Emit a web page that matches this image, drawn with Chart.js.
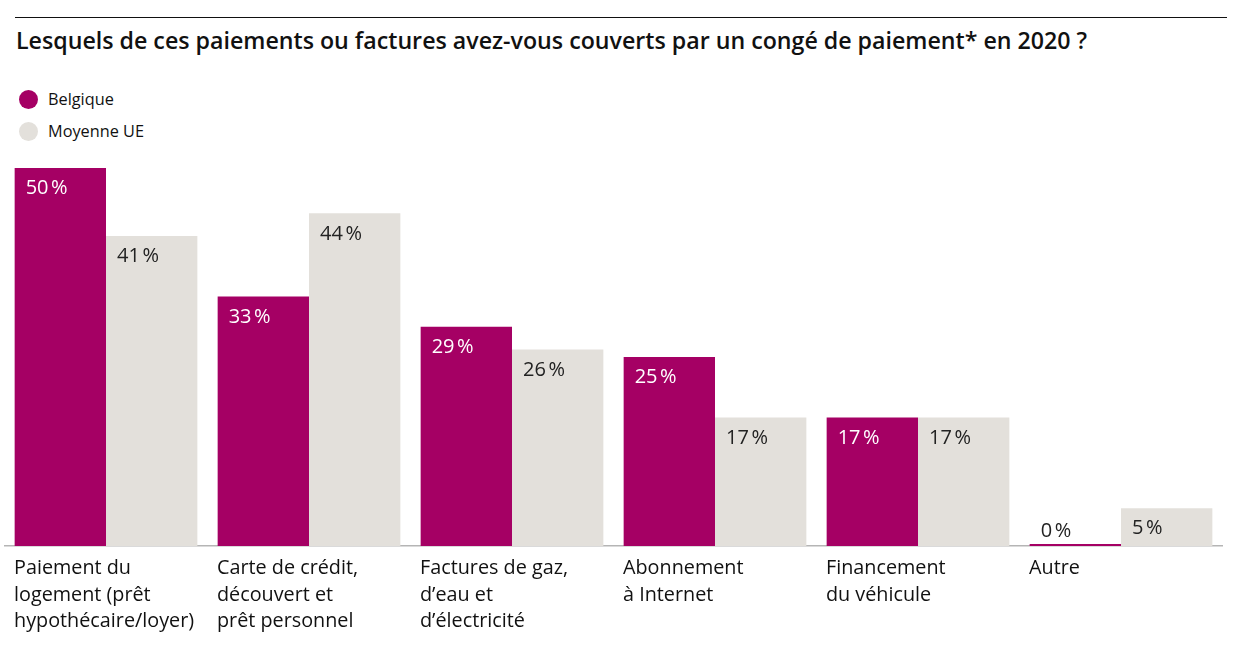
<!DOCTYPE html>
<html lang="fr">
<head>
<meta charset="utf-8">
<script src="https://cdn.jsdelivr.net/npm/chart.js@4/dist/chart.umd.min.js"></script>
<style>
  html, body { margin: 0; padding: 0; background: #fff; }
  body { width: 1244px; height: 653px; position: relative; overflow: hidden; font-family: "Open Sans", "Noto Sans", sans-serif; color: #111; }
  .rule { position: absolute; left: 15px; top: 17px; width: 1212px; height: 1px; background: #111; }
  h1 { position: absolute; left: 16px; top: 24px; margin: 0; font-size: 23.2px; font-weight: 600; letter-spacing: 0; }
  .legend { position: absolute; left: 19px; top: 83px; font-size: 16.3px; }
  .legend div { display: flex; align-items: center; height: 32px; }
  .legend span.dot { width: 19px; height: 19px; border-radius: 50%; margin-right: 10px; display: inline-block; }
  #wrap { position: absolute; left: 0; top: 0; width: 1244px; height: 653px; }
</style>
</head>
<body>
<div class="rule"></div>
<h1>Lesquels de ces paiements ou factures avez-vous couverts par un congé de paiement* en 2020 ?</h1>
<div class="legend">
  <div><span class="dot" style="background:#a50064"></span>Belgique</div>
  <div><span class="dot" style="background:#e3e0db"></span>Moyenne UE</div>
</div>
<div id="wrap"><canvas id="chart"></canvas></div>
<script>
const categories = [
  ['Paiement du', 'logement (prêt', 'hypothécaire/loyer)'],
  ['Carte de crédit,', 'découvert et', 'prêt personnel'],
  ['Factures de gaz,', 'd\u2019eau et', 'd\u2019électricité'],
  ['Abonnement', 'à Internet'],
  ['Financement', 'du véhicule'],
  ['Autre']
];
const belgique = [50, 33, 29, 25, 17, 0];
const moyenneUE = [41, 44, 26, 17, 17, 5];

const MAGENTA = '#a50064';
const GREY = '#e3e0db';
const FONT = '"Open Sans", "Noto Sans", sans-serif';

// étiquettes de valeur dans le coin haut-gauche de chaque barre
const valueLabels = {
  id: 'valueLabels',
  afterDatasetsDraw(chart) {
    const ctx = chart.ctx;
    ctx.save();
    ctx.font = '20px ' + FONT;
    ctx.textAlign = 'left';
    ctx.textBaseline = 'middle';
    const base = chart.scales.y.getPixelForValue(0);
    chart.data.datasets.forEach((ds, di) => {
      const meta = chart.getDatasetMeta(di);
      meta.data.forEach((bar, i) => {
        const v = ds.data[i];
        const left = bar.x - bar.width / 2;
        let y = bar.y + 20.5;
        let color = di === 0 ? '#fff' : '#222';
        if (base - bar.y < 30) { y = base - 15; color = '#222'; }
        ctx.fillStyle = color;
        ctx.fillText(v + '\u202F%', left + 11, y);
      });
    });
    ctx.restore();
  }
};

new Chart(document.getElementById('chart'), {
  type: 'bar',
  data: {
    labels: categories,
    datasets: [
      { label: 'Belgique', data: belgique, backgroundColor: MAGENTA, minBarLength: 2 },
      { label: 'Moyenne UE', data: moyenneUE, backgroundColor: GREY }
    ]
  },
  options: {
    responsive: true,
    maintainAspectRatio: false,
    animation: false,
    devicePixelRatio: 1,
    layout: { padding: { left: 4.5, right: 21.5, top: 168, bottom: 0 } },
    datasets: { bar: { categoryPercentage: 0.9, barPercentage: 1, borderWidth: 0 } },
    scales: {
      x: {
        grid: { display: false, drawTicks: false },
        border: { display: true, color: '#b5b5b5', width: 1.5 },
        ticks: {
          align: 'start',
          labelOffset: -92,
          padding: 9,
          color: '#111',
          font: { family: FONT, size: 19.8, lineHeight: 1.35 },
          maxRotation: 0,
          autoSkip: false
        },
        afterFit: (scale) => { scale.height = 107; }
      },
      y: { display: false, min: 0, max: 50 }
    },
    plugins: {
      legend: { display: false },
      tooltip: { enabled: false }
    }
  },
  plugins: [valueLabels]
});
</script>
</body>
</html>
